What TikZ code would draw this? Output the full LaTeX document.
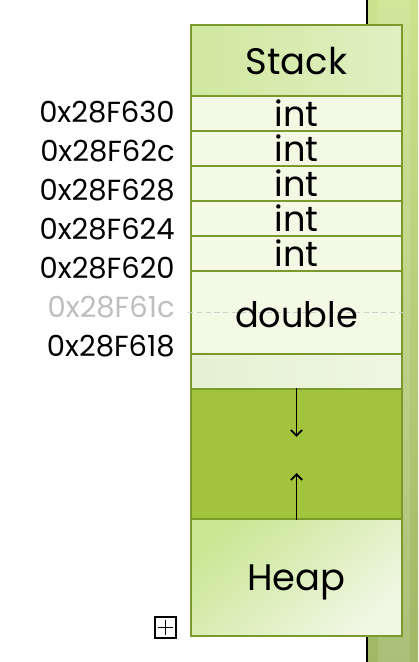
\documentclass[tikz,border=0pt]{standalone}
\usepackage{fontspec}
\setmainfont{Poppins}
\usepackage{tikz}
\usetikzlibrary{arrows,arrows.meta}

\definecolor{cellborder}{HTML}{7A9A2E}
\definecolor{stackleft}{HTML}{D0E8A0}
\definecolor{stackright}{HTML}{E0F0C2}
\definecolor{slotfill}{HTML}{F4F9E5}
\definecolor{bandleft}{HTML}{E5F1D2}
\definecolor{bandright}{HTML}{EFF6E3}
\definecolor{freefill}{HTML}{A2C43C}
\definecolor{heaptop}{HTML}{CBE796}
\definecolor{heapbot}{HTML}{F0F7E4}
\definecolor{striptop}{HTML}{CAE38C}
\definecolor{stripbot}{HTML}{9FB866}
\definecolor{greyaddr}{HTML}{BEBEBE}
\definecolor{dashgrey}{HTML}{CFCFCF}

\tikzset{
	cell/.style={shape=rectangle, draw=cellborder, line width=1.2pt, minimum width=4.22cm, inner sep=0pt, text depth=0pt, font=\fontsize{20}{24}\selectfont},
	slot/.style={cell, fill=slotfill, minimum height=0.7cm},
	addr/.style={anchor=east, inner sep=0pt, font=\fontsize{16.5}{19}\selectfont},
	growarrow/.style={-{Straight Barb[length=3.2pt,width=6.4pt,line width=1.1pt]}, line width=0.7pt},
}

\begin{document}
\begin{tikzpicture}
		\useasboundingbox (0,0) rectangle (8.36,13.24);
		% Background strip:
		\shade[top color=striptop, bottom color=stripbot] (7.34,0) rectangle (8.36,13.24);
		\fill[white, opacity=0.12] (7.56,0) rectangle (8.2,13.24);
		\draw[black, line width=0.6pt] (7.34,0) -- (7.34,13.24);
		% Memory cells:
		\node[cell, minimum height=1.42cm, left color=stackleft, right color=stackright, font=\fontsize{21}{25}\selectfont](N1) at (5.93, 12.03){Stack};
		\node[slot](N2) at (5.93, 10.97){int};
		\node[slot](N3) at (5.93, 10.27){int};
		\node[slot](N4) at (5.93, 9.57){int};
		\node[slot](N5) at (5.93, 8.87){int};
		\node[slot](N6) at (5.93, 8.17){int};
		\node[cell, fill=slotfill, minimum height=1.66cm](N7) at (5.93, 6.99){};
		\draw[dashgrey, line width=0.6pt, dash pattern=on 3pt off 2pt] ([xshift=-0.04cm]N7.west) -- (N7.east);
		\node[anchor=center, font=\fontsize{20}{24}\selectfont, text depth=0pt, inner sep=0pt] at ([yshift=-0.04cm]N7.center){double};
		\node[cell, minimum height=0.7cm, left color=bandleft, right color=bandright](N8) at (5.93, 5.81){};
		\node[cell, fill=freefill, minimum height=2.6cm](N9) at (5.93, 4.16){};
		\node[cell, minimum height=2.34cm, shading=axis, top color=heaptop, bottom color=heapbot, shading angle=40, font=\fontsize{21}{25}\selectfont](N10) at (5.93, 1.69){Heap};
		% Growth arrows:
		\coordinate (T1) at (5.93, 4.5);
		\coordinate (T2) at (5.93, 3.78);
		\draw[growarrow] (N9.north) -- (T1);
		\draw[growarrow] (N9.south) -- (T2);
		% Addresses:
		\node[addr](A1) at (3.5, 11.0){0x28F630};
		\node[addr](A2) at (3.5, 10.22){0x28F62c};
		\node[addr](A3) at (3.5, 9.44){0x28F628};
		\node[addr](A4) at (3.5, 8.66){0x28F624};
		\node[addr](A5) at (3.5, 7.88){0x28F620};
		\node[addr, text=greyaddr](A6) at (3.5, 7.10){0x28F61c};
		\node[addr](A7) at (3.5, 6.32){0x28F618};
		% Expand box:
		\node[shape=rectangle, draw, line width=1pt, minimum size=0.42cm, inner sep=0pt](P1) at (3.31, 0.69){};
		\draw[line width=1pt] ([xshift=0.07cm]P1.west) -- ([xshift=-0.07cm]P1.east) ([yshift=0.07cm]P1.south) -- ([yshift=-0.07cm]P1.north);
\end{tikzpicture}
\end{document}
